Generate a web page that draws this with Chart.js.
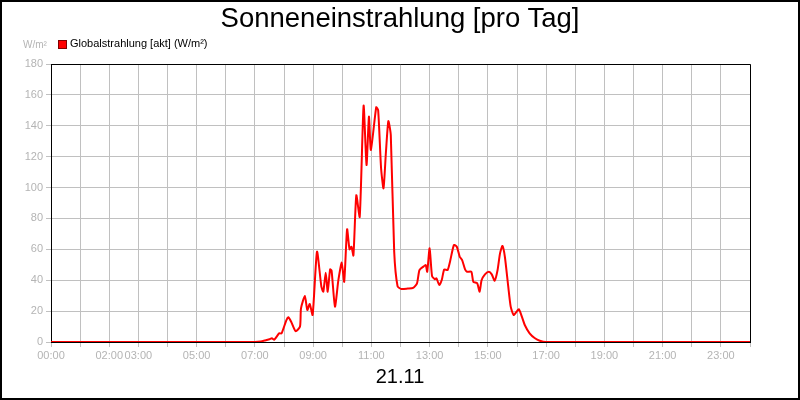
<!DOCTYPE html>
<html>
<head>
<meta charset="utf-8">
<script src="https://cdn.jsdelivr.net/npm/chart.js@4"></script>
<style>
  html, body { margin: 0; padding: 0; background: #fff; }
  #wrap { position: relative; width: 800px; height: 400px; font-family: "Liberation Sans", Arial, sans-serif; }
  #wrap canvas { position: absolute; left: 0; top: 0; }
  .t { position: absolute; white-space: nowrap; }
  #title { left: 0; width: 800px; text-align: center; top: 2px; font-size: 27.5px; color: #000; }
  #unit { left: 23px; top: 39px; font-size: 10px; color: #b4b4b4; }
  #legbox { left: 58px; top: 40px; width: 7px; height: 7px; background: #ff0000; border: 1px solid #800000; }
  #legtxt { left: 70px; top: 37px; font-size: 11px; color: #000; }
  #date { left: 0; width: 800px; text-align: center; top: 365px; font-size: 20px; color: #000; }
</style>
</head>
<body>
<div id="wrap">
  <canvas id="c" width="800" height="400"></canvas>
  <div class="t" id="title">Sonneneinstrahlung [pro Tag]</div>
  <div class="t" id="unit">W/m²</div>
  <div class="t" id="legbox"></div>
  <div class="t" id="legtxt">Globalstrahlung [akt] (W/m²)</div>
  <div class="t" id="date">21.11</div>
</div>
<script>
const seriesLabel = "Globalstrahlung [akt] (W/m²)";
const times = ["00:00","07:00","07:12","07:21","07:30","07:35","07:40","07:50","07:55","08:05","08:09","08:15","08:24","08:33","08:35","08:43","08:48","08:53","08:59","09:08","09:17","09:21","09:26","09:30","09:35","09:38","09:45","09:52","09:59","10:04","10:10","10:15","10:19","10:23","10:29","10:36","10:44","10:50","10:55","10:59","11:10","11:14","11:20","11:25","11:30","11:35","11:40","11:47","11:54","12:02","12:15","12:26","12:34","12:39","12:47","12:52","12:55","13:00","13:05","13:11","13:14","13:20","13:25","13:30","13:37","13:42","13:50","13:56","14:02","14:07","14:13","14:17","14:26","14:30","14:38","14:43","14:47","14:54","15:02","15:08","15:14","15:20","15:25","15:30","15:35","15:42","15:47","15:53","15:59","16:04","16:10","16:16","16:26","16:37","16:47","17:00","24:00"];
const radiation = [0,0,0.3,1,1.8,2.4,1.5,5.6,5.6,14.2,16,13,7,10,21.8,29.8,20.7,24.6,17.5,58.5,35.8,32.6,44.9,32.6,47,46.2,22.9,40,51.4,39,73,60,61.7,56,95,81,153,114.6,145.9,124.3,152,150,112.5,99.5,123,143,134,58.5,36,34.3,34.6,35,38,46.6,48.8,49.8,45.5,60.7,42.7,40.6,41.2,36.9,40.1,47,46.6,52,62.8,61.7,55.2,53,47,45.5,45.5,39,38,32.6,40,43.8,45.5,43.8,39.7,46.6,57.4,62.2,55.2,35.8,22.9,17.5,19.6,21.2,16.4,11,5.6,2.4,0.8,0,0];
const xTickLabels = ["00:00","02:00","03:00","05:00","07:00","09:00","11:00","13:00","15:00","17:00","19:00","21:00","23:00"];
const yTicks = [0,20,40,60,80,100,120,140,160,180];

function toHours(s){ const p = s.split(":"); return +p[0] + (+p[1])/60; }
const points = times.map((t,i)=>({x: toHours(t), y: radiation[i]}));

const frame = {
  id: 'frame',
  afterDraw(chart){
    const ctx = chart.ctx, a = chart.chartArea;
    ctx.save();
    ctx.strokeStyle = '#000'; ctx.lineWidth = 1;
    ctx.beginPath();
    ctx.moveTo(a.left, a.top + 0.5); ctx.lineTo(a.right + 0.5, a.top + 0.5); ctx.lineTo(a.right + 0.5, a.bottom);
    ctx.stroke();
    ctx.lineWidth = 2;
    ctx.strokeRect(1, 1, 798, 398);
    ctx.restore();
  }
};

new Chart(document.getElementById('c'), {
  type: 'line',
  data: { datasets: [{
    label: seriesLabel,
    data: points,
    borderColor: '#ff0000',
    borderWidth: 2,
    pointRadius: 0,
    tension: 0.2,
    fill: false
  }]},
  options: {
    responsive: false,
    animation: false,
    devicePixelRatio: 1,
    layout: { padding: { left: 0, right: 50, top: 64, bottom: 36 } },
    plugins: { legend: { display: false }, title: { display: false }, tooltip: { enabled: false } },
    scales: {
      x: {
        type: 'linear', min: 0, max: 24,
        afterBuildTicks(scale){ const t=[]; for(let h=0;h<=24;h++) t.push({value:h}); scale.ticks = t; },
        afterFit(scale){ scale.height = 22; },
        ticks: {
          autoSkip: false, maxRotation: 0, minRotation: 0,
          color: '#b4b4b4', font: { family: 'Liberation Sans', size: 11 }, padding: 2,
          callback(v){ const s = String(v).padStart(2,'0') + ':00'; return xTickLabels.includes(s) ? s : ''; }
        },
        grid: { color: '#c0c0c0', tickColor: '#c0c0c0', tickLength: 5, lineWidth: 1 },
        border: { color: '#000', width: 1 }
      },
      y: {
        min: 0, max: 180,
        afterBuildTicks(scale){ scale.ticks = yTicks.map(v=>({value:v})); },
        afterFit(scale){ scale.width = 51; },
        ticks: { color: '#b4b4b4', font: { family: 'Liberation Sans', size: 11 }, padding: 3 },
        grid: { color: '#c0c0c0', tickColor: '#c0c0c0', tickLength: 5, lineWidth: 1 },
        border: { color: '#000', width: 1 }
      }
    }
  },
  plugins: [frame]
});
</script>
</body>
</html>
